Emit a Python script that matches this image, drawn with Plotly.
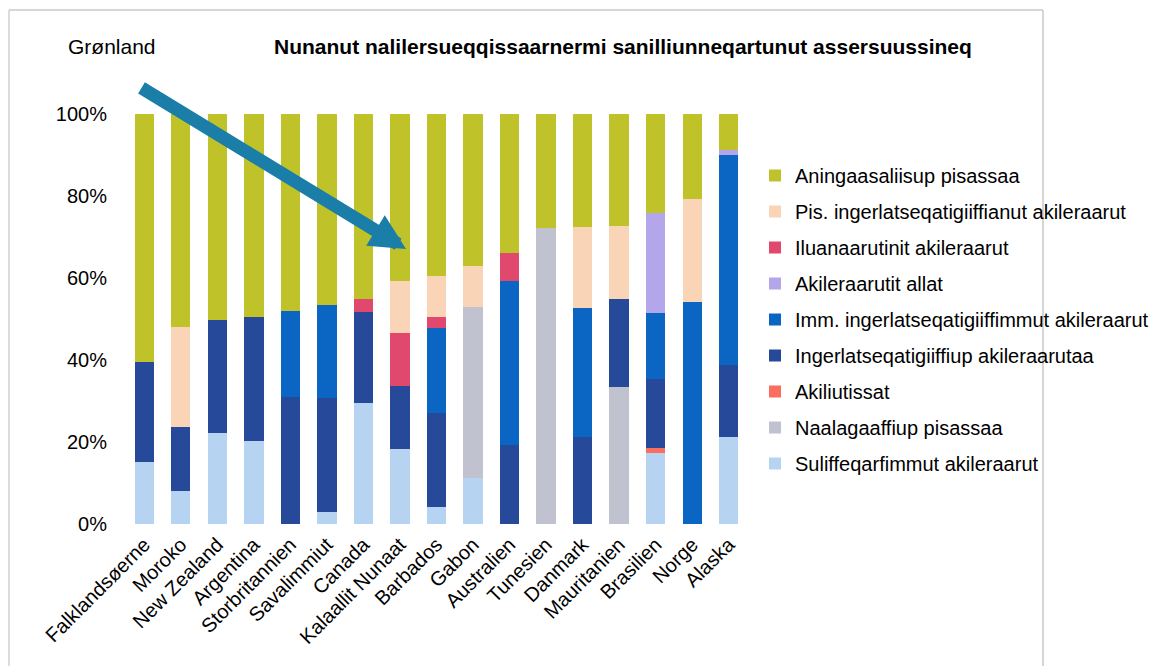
import plotly.graph_objects as go

countries = ["Falklandsøerne", "Moroko", "New Zealand", "Argentina", "Storbritannien",
             "Savalimmiut", "Canada", "Kalaallit Nunaat", "Barbados", "Gabon", "Australien",
             "Tunesien", "Danmark", "Mauritanien", "Brasilien", "Norge", "Alaska"]

# values in percent, stacked bottom -> top
suliffeqarfimmut = [15.2, 8.1, 22.1, 20.3, 0, 3.0, 29.6, 18.2, 4.2, 11.1, 0, 0, 0, 0, 17.2, 0, 21.3]
naalagaaffiup = [0, 0, 0, 0, 0, 0, 0, 0, 0, 41.9, 0, 72.3, 0, 33.3, 0, 0, 0]
akiliutissat = [0, 0, 0, 0, 0, 0, 0, 0, 0, 0, 0, 0, 0, 0, 1.3, 0, 0]
ingerlatseqatigiiffiup = [24.4, 15.6, 27.7, 30.1, 31.0, 27.7, 22.2, 15.5, 22.8, 0, 19.3, 0, 21.1, 21.7, 16.8, 0, 17.5]
imm_ingerlatseqatigiiffimmut = [0, 0, 0, 0, 21.0, 22.7, 0, 0, 20.9, 0, 40.0, 0, 31.5, 0, 16.2, 54.2, 51.2]
akileraarutit_allat = [0, 0, 0, 0, 0, 0, 0, 0, 0, 0, 0, 0, 0, 0, 24.3, 0, 1.2]
iluanaarutinit = [0, 0, 0, 0, 0, 0, 3.0, 13.0, 2.5, 0, 6.7, 0, 0, 0, 0, 0, 0]
pis_ingerlatseqatigiiffianut = [0, 24.4, 0, 0, 0, 0, 0, 12.6, 10.1, 10.0, 0, 0, 19.8, 17.7, 0, 25.0, 0]
aningaasaliisup = [60.4, 51.9, 50.2, 49.6, 48.0, 46.6, 45.2, 40.7, 39.5, 37.0, 34.0, 27.7, 27.6, 27.3, 24.2, 20.8, 8.8]

series = [
    ("Suliffeqarfimmut akileraarut", suliffeqarfimmut, "#B6D4F2"),
    ("Naalagaaffiup pisassaa", naalagaaffiup, "#C0C2D0"),
    ("Akiliutissat", akiliutissat, "#F96E5E"),
    ("Ingerlatseqatigiiffiup akileraarutaa", ingerlatseqatigiiffiup, "#26499A"),
    ("Imm. ingerlatseqatigiiffimmut akileraarut", imm_ingerlatseqatigiiffimmut, "#0B66C3"),
    ("Akileraarutit allat", akileraarutit_allat, "#B4A6EA"),
    ("Iluanaarutinit akileraarut", iluanaarutinit, "#E0496D"),
    ("Pis. ingerlatseqatigiiffianut akileraarut", pis_ingerlatseqatigiiffianut, "#FAD4B6"),
    ("Aningaasaliisup pisassaa", aningaasaliisup, "#C0C22A"),
]

FONT = "Liberation Sans, Arial, sans-serif"

fig = go.Figure()
n = len(series)
for i, (name, vals, col) in enumerate(series):
    fig.add_trace(go.Bar(
        x=countries, y=[v / 100 for v in vals], name=name,
        marker=dict(color=col, line=dict(width=0)),
        legendgroup=f"g{i}", legendrank=100 + (n - i),
    ))

# page has an 8px body margin: work in screen px, convert to figure px
O = 8
W, H = 1174 - O, 666 - O
L, R, T, B = 126 - O, 747 - O, 114 - O, 524 - O
def px(x):
    return (x - O - L) / (R - L)
def py(y):
    return (B - (y - O)) / (B - T)

fig.update_layout(
    width=W, height=H,
    barmode="stack", bargap=0.47,
    plot_bgcolor="white", paper_bgcolor="white",
    margin=dict(l=L, r=W - R, t=T, b=H - B, autoexpand=False),
    font=dict(family=FONT, size=20, color="black"),
    showlegend=True,
    legend=dict(
        x=px(755), y=py(156), xanchor="left", yanchor="top",
        traceorder="grouped", tracegroupgap=7,
        font=dict(family=FONT, size=20, color="black"),
        itemwidth=30, bgcolor="rgba(0,0,0,0)",
    ),
    xaxis=dict(
        tickangle=-45, showgrid=False, showline=False, ticks="",
        tickfont=dict(family=FONT, size=20, color="black"),
        ticklabelstandoff=4,
        range=[-0.5, 16.5],
    ),
    yaxis=dict(
        range=[0, 1], tickvals=[0, 0.2, 0.4, 0.6, 0.8, 1.0],
        tickformat=".0%", showgrid=False, showline=False, zeroline=False,
        ticks="", ticklabelstandoff=18,
        tickfont=dict(family=FONT, size=20, color="black"),
    ),
    shapes=[
        dict(type="line", xref="paper", yref="paper", x0=px(9), x1=px(1043), y0=py(10), y1=py(10),
             line=dict(color="#C8C8C8", width=1.5)),
        dict(type="line", xref="paper", yref="paper", x0=px(9), x1=px(9), y0=py(10), y1=py(666),
             line=dict(color="#D0D0D0", width=1.5)),
        dict(type="line", xref="paper", yref="paper", x0=px(1043), x1=px(1043), y0=py(10), y1=py(666),
             line=dict(color="#C8C8C8", width=1.5)),
    ],
    annotations=[
        dict(text="<b>Nunanut nalilersueqqissaarnermi sanilliunneqartunut assersuussineq</b>",
             xref="paper", yref="paper", x=px(623), y=py(46), xanchor="center", yanchor="middle",
             showarrow=False, font=dict(family=FONT, size=21, color="black")),
        dict(text="Grønland", xref="paper", yref="paper", x=px(66), y=py(46),
             xanchor="left", yanchor="middle", showarrow=False,
             font=dict(family=FONT, size=21, color="black")),
        dict(text="", xref="paper", yref="paper", x=px(406), y=py(249),
             ax=140 - 406, ay=87 - 249, axref="pixel", ayref="pixel",
             showarrow=True, arrowhead=2, arrowsize=0.55, arrowwidth=13, arrowcolor="#1A7EA8"),
    ],
)

fig.write_html("out.html")
